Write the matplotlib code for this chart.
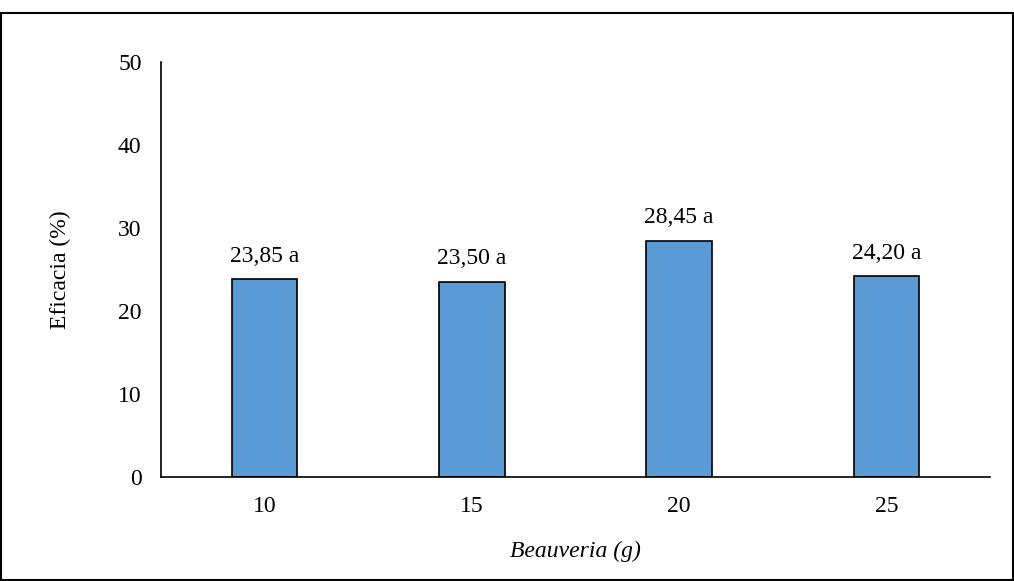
import matplotlib.pyplot as plt
from matplotlib.patches import Rectangle

doses = ["10", "15", "20", "25"]
efficacy = [23.85, 23.50, 28.45, 24.20]
labels = ["23,85 a", "23,50 a", "28,45 a", "24,20 a"]

plt.rcParams["font.family"] = ["Liberation Serif", "DejaVu Serif"]

fig = plt.figure(figsize=(10.14, 5.81), dpi=100)
ax = fig.add_axes([0.1588, 0.179, 0.8175, 0.7143])

x = range(len(doses))
bars = ax.bar(x, efficacy, width=0.315, color="#5B9BD5", edgecolor="black", linewidth=1.2)

for b, lab in zip(bars, labels):
    ax.text(b.get_x() + b.get_width() / 2, b.get_height() + 1.5, lab,
            ha="center", va="bottom", fontsize=17)

ax.set_xlim(-0.5, 3.5)
ax.set_ylim(0, 50)
ax.set_yticks([0, 10, 20, 30, 40, 50])
ax.set_xticks(list(x))
ax.set_xticklabels(doses)
ax.tick_params(length=0, labelsize=17)
ax.tick_params(axis="x", pad=14)
ax.tick_params(axis="y", pad=14)

for s in ["top", "right"]:
    ax.spines[s].set_visible(False)
ax.spines["left"].set_linewidth(1.2)
ax.spines["bottom"].set_linewidth(1.2)

ax.set_ylabel("Eficacia (%)", fontsize=17, labelpad=34)
ax.set_xlabel("Beauveria (g)", fontsize=17, style="italic", labelpad=17)

fig.patches.append(Rectangle((0.001, 0.001), 0.998, 1 - 13 / 581 - 0.001,
                             transform=fig.transFigure, fill=False,
                             edgecolor="black", linewidth=1.5))

fig.savefig("out.png", dpi=100)
